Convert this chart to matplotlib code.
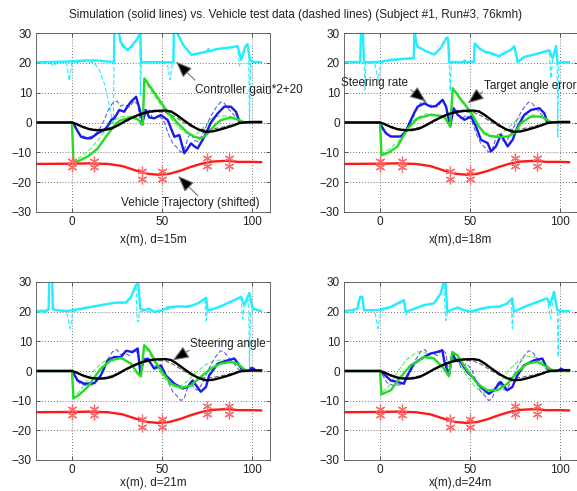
import numpy as np
import matplotlib
matplotlib.use("Agg")
import matplotlib.pyplot as plt

plt.rcParams['font.family'] = ['Liberation Sans', 'DejaVu Sans']

# ---- shared data (same vehicle test / trajectory in every panel) ----
cone_x = [0, 12, 39, 50, 75, 87]
cone_y_top = [-12.9, -12.9, -16.2, -16.2, -11.8, -11.8]
cone_y_bot = [-14.9, -14.9, -18.9, -18.9, -14.5, -14.5]

trajectory = [(-20, -13.9), (0, -13.8), (10, -13.7), (20, -13.9), (28, -14.6), (35, -16),
              (42, -17.2), (48, -17.5), (54, -17.2), (60, -16.2), (66, -14.9), (72, -13.8),
              (78, -13.1), (84, -12.9), (88, -12.9), (92, -13.2), (100, -13.2), (105, -13.3)]

steer_angle_sim = [(-20, 0), (0, 0), (2, -0.4), (6, -1.5), (10, -2.3), (14, -2.6), (18, -2.5),
                   (22, -2.0), (26, -0.8), (30, 0.6), (34, 1.8), (38, 2.8), (42, 3.5), (46, 3.9),
                   (52, 4.0), (55, 3.7), (58, 2.6), (62, 0.8), (66, -0.9), (70, -2.3), (74, -3.1),
                   (78, -3.0), (82, -2.4), (86, -1.7), (90, -0.9), (93, -0.2), (95, 0),
                   (100, 0.2), (105, 0.2)]
steer_angle_test = [(-20, 0), (0, 0), (4, -0.9), (10, -2.1), (16, -2.4), (22, -1.6), (28, -0.2),
                    (34, 1.5), (40, 2.9), (46, 3.6), (52, 3.4), (57, 2.0), (62, 0.0), (67, -1.6),
                    (72, -2.3), (78, -2.2), (84, -1.5), (90, -0.6), (94, 0), (105, 0)]
steer_rate_test = [(-20, 0), (0, 0), (1.5, -1.5), (4, -4), (8, -5), (12, -4.5), (15, -2.5), (18, 1),
                   (20, 4), (22.5, 6.5), (25, 7.2), (27, 5.5), (29, 6), (32, 5.2), (34.5, 7.3),
                   (36.5, 6), (38.3, -0.8), (39.8, 4.5), (41.5, 3.5), (43, 4.2), (45, 1), (48, 2.5),
                   (51, 0.5), (54, -4.5), (56, -7), (58, -8.2), (60.5, -10), (62.5, -9), (64.5, -5),
                   (66, -3.5), (68, -6), (70, -6.5), (72, -4.5), (74, -2), (77, 2), (80, 5),
                   (82.5, 6.8), (84.5, 6.5), (87, 4.5), (90, 2.5), (92.5, 0.5), (94, 0), (105, 0)]

# ---- panel 1, d=15m ----
p1_gain_sim = [(-20, 20.2), (-10, 20.3), (0, 20.5), (8, 20.8), (14, 20.8), (20, 20.4), (23.3, 20.4),
               (23.6, 32), (25.5, 32), (27, 27), (29, 25.4), (31, 24.3), (33.7, 26), (36.5, 28.3),
               (38, 30), (38.3, 20.2), (56.3, 20.2), (56.6, 32), (58.5, 30), (61.8, 26), (66.4, 22.7),
               (72, 23.4), (75, 23.8), (75.8, 24.6), (76.3, 23.8), (80.2, 24.6), (89.4, 25.3),
               (92, 25.6), (94, 21.1), (96.4, 25.6), (97.5, 26.3), (98.9, 20.8), (100.7, 20.3),
               (105, 20.2)]
p1_gain_test = [(-20, 20), (-12, 19.8), (-10, 18.8), (-9, 20), (-3, 20), (-1.5, 14), (0, 20),
                (8, 20.5), (12, 20), (15, 18), (18, 13), (20, 8), (22, 2), (23, 0), (23.5, 32),
                (25.5, 32), (27, 26), (29, 25), (31, 24), (33.7, 25.5), (36.5, 28), (37.8, 30),
                (38, 9), (38.5, 20), (48, 20.2), (53, 19.5), (54.5, 14.3), (55.5, 19), (56.5, 20),
                (56.8, 32), (58.5, 29.5), (62, 25.5), (66.4, 22.5), (72, 23.2), (75, 23.6),
                (80, 24.4), (89, 25.1), (92, 25.4), (93, 19), (94, 21), (96.4, 25.4), (97.5, 26),
                (98.2, 22), (98.6, -0.5), (99.2, 20), (100.7, 20.2), (105, 20)]
p1_rate_sim = [(-20, 0), (0, 0), (1, -0.5), (2.2, -1.9), (5, -4.8), (8, -5.3), (10.5, -5.3),
               (14.3, -3.6), (18, -2.5), (20, -1), (22, 1), (23.5, 1.4), (26.3, 4.2), (29, 3.6),
               (31, 5.5), (32.8, 7), (35.6, 8.6), (37.2, 5.3), (39.3, 0.3), (41, 4.2), (42.9, 1.7),
               (45.7, 1.4), (49.4, 2.5), (53.2, 0.8), (55, -2), (56.9, -4.8), (59.6, -4.2),
               (62.4, -10.3), (64, -9), (66.1, -7), (68, -8), (69.8, -8.7), (73.5, -4.8),
               (77.2, 0), (81, 3.1), (84.6, 5.3), (88.3, 5.3), (91.1, 3.6), (93, 0.3), (94, 0),
               (105, 0)]
p1_err_sim = [(-20, 0), (0, 0), (0.8, -13.6), (5, -12.5), (9, -11.3), (14.3, -8.7), (18, -5.5),
              (21.7, -2.5), (24.5, -0.3), (27.2, 0.8), (32.8, 1.7), (36.5, 1.1), (39.3, -0.8),
              (40.2, 14.8), (44, 11.5), (48, 8), (52, 4.5), (56, 1.5), (60, -1), (64, -3.3),
              (68, -4.8), (71.6, -5.3), (74, -4.5), (77.2, -2.5), (80, -0.5), (82.8, 0.8),
              (88.3, 1.7), (93, 0.8), (95.7, 0), (105, 0)]
p1_err_test = [(-20, 0), (0, 0), (0.8, -13), (5, -11.5), (10, -9), (15, -5.5), (20, -1.5), (24, 1),
               (28, 2), (33, 2), (37, 1), (39.3, -0.5), (40.2, 14), (44, 10.5), (48, 7), (52, 3.5),
               (56, 0.5), (60, -2), (64, -3.8), (67, -4.5), (70, -3.5), (74, -1), (78, 1.5),
               (82, 2.3), (88, 2), (93, 0.8), (95.7, 0), (105, 0)]

# ---- panel 2, d=18m ----
p2_gain_sim = [(-20, 20.2), (-11, 20.3), (-10.5, 32), (-9.5, 32), (-9, 20.2), (0, 20.3), (6, 21),
               (12, 21.3), (17.2, 21.5), (18.8, 21.7), (19.1, 32), (20, 27), (21, 25.4), (24.6, 24.2),
               (27, 23.5), (30.2, 22.8), (33.9, 25.1), (36.7, 28.2), (37.5, 28.5), (38, 27),
               (38.5, 20), (40, 20.3), (46, 20.2), (47, 20.8), (48, 20.2), (52.2, 20.4),
               (52.6, 26.5), (55, 25), (57.9, 23.8), (61.7, 23.3), (66.1, 22.2), (69, 23.3),
               (72.8, 24.4), (74.6, 25.6), (76.5, 20.3), (78, 21), (80.2, 22), (87.6, 23.1),
               (94, 24.2), (95.9, 21.5), (97.8, 25.6), (98.7, 19.8), (100.6, 20.2), (105, 20.2)]
p2_gain_test = [(-20, 20), (-11, 20), (-10.5, 32), (-9.5, 32), (-8.8, 20), (-8.3, 10.9), (-7.8, 20),
                (-3, 20), (-1, 14.2), (0.5, 20), (6, 20.8), (17.2, 21.3), (18.8, 21.5), (19.1, 32),
                (20, 26.5), (21, 25.2), (24.6, 24), (30.2, 22.6), (33.9, 25), (36.7, 28),
                (37.5, 28.3), (38.5, 20), (39, 10.5), (39.6, 20), (46, 20), (52.2, 20.2),
                (52.6, 26), (55, 24.7), (57.9, 23.5), (66.1, 22), (69, 23), (72.8, 24.2),
                (74.6, 25.3), (76.5, 20), (80.2, 21.8), (87.6, 22.9), (94, 24), (95, 14.8),
                (95.9, 21.3), (97.8, 25.4), (98.4, 20), (98.8, -4.8), (99.3, 19.8), (100.6, 20),
                (105, 20)]
p2_rate_sim = [(-20, 0), (0, 0), (1.5, -2), (3.3, -3.6), (6, -4.7), (11.5, -4.7), (14.3, -3),
               (16.5, 0), (18.9, 3.1), (20.9, 5.3), (24.6, 6.4), (28.3, 5.3), (31, 5.5),
               (34.8, 7.6), (36.7, 5.3), (39, -1.3), (40.9, 4.8), (43.1, 2.6), (46.9, 0.9),
               (50.6, 2), (53.3, -1.3), (56.1, -5.8), (59.8, -6.9), (61.7, -9.7), (64.4, -8),
               (67.2, -4.1), (70.9, -8), (73.7, -5.8), (76.5, -1.3), (80.2, 2.6), (83.9, 4.2),
               (88.5, 4.8), (91.3, 3.1), (93, 0), (105, 0)]
p2_err_sim = [(-20, 0), (0, 0), (0.8, -11), (5, -10), (9.8, -8), (12.5, -5), (15.6, -1.9),
              (20.9, 1.4), (28.3, 2.6), (35.6, 2), (39, -1.3), (40.4, 11.5), (44, 8.5), (47, 6.2),
              (51, 3), (54.3, -0.8), (57.9, -3.6), (61, -4.5), (65.4, -4.9), (70.9, -4.7),
              (74.6, -3.6), (78.3, -0.2), (83.9, 2), (89.4, 2), (93, 0.9), (95, 0), (105, 0)]
p2_err_test = [(-20, 0), (0, 0), (0.8, -10.5), (5, -9), (10, -6.5), (15, -2), (20, 1.5), (26, 3),
               (33, 2.5), (37, 1), (39, -0.8), (40.4, 11), (44, 8), (48, 5), (52, 1.5), (56, -2),
               (60, -4), (64, -4.5), (68, -3.5), (72, -1.5), (76, 1), (80, 2.5), (86, 2.5),
               (91, 1.2), (94, 0), (105, 0)]

# ---- panel 3, d=21m ----
p3_gain_sim = [(-20, 20.2), (-14, 20.3), (-13, 21), (-12.6, 32), (-11, 32), (-10.7, 21), (-9, 20.5),
               (-2.4, 20.2), (3, 20.8), (8.7, 21.4), (16, 22.2), (23.5, 23), (30, 23.1), (32.8, 25),
               (35.6, 29), (36.8, 29.5), (37.9, 21), (40.1, 20.5), (42.9, 21), (45.6, 19.9),
               (50.2, 20.5), (53, 21.4), (58.5, 21.8), (64.1, 21.6), (69.6, 22.7), (74.5, 24.7),
               (75.4, 20.4), (81, 21.4), (90.2, 23.9), (93.9, 25), (95.7, 22.2), (98.5, 26.3),
               (100.4, 21), (105, 20.2)]
p3_gain_test = [(-20, 20), (-16, 19.5), (-14, 20), (-13, 20.5), (-12.6, 32), (-11, 32), (-10.7, 20.5),
                (-3, 20), (-1, 14.3), (0.5, 20), (8.7, 21.2), (16, 22), (23.5, 22.8), (30, 22.9),
                (32.8, 24.8), (35.6, 28.5), (36.2, 17), (36.8, 16.5), (37.5, 20), (40.1, 20.3),
                (45.6, 19.7), (50.2, 20.3), (58.5, 21.6), (69.6, 22.5), (73.8, 24), (74.5, 17),
                (75.2, 20.2), (81, 21.2), (90.2, 23.7), (93.9, 24.8), (94.8, 17.6), (95.7, 22),
                (98.2, 24), (98.6, 0.2), (99.2, 20), (100.4, 20.8), (105, 20)]
p3_rate_sim = [(-20, 0), (0, 0), (1.5, -1.5), (3.1, -3.2), (6.8, -4.3), (12.4, -4.1), (16, -1.5),
               (19.8, 3.6), (23.5, 4.7), (27.2, 4.7), (30, 6.8), (33.7, 6.4), (36.5, 7.6),
               (38, -0.9), (39.8, 3.6), (42, 4.2), (45.7, 0.8), (49.4, 1.9), (52.1, -1.5),
               (56.9, -4.3), (61.5, -5.9), (64.2, -5.4), (67, -3.2), (69.6, -5.4), (71.5, -7),
               (74.4, -5.4), (76.2, -1.5), (81, 2.5), (86.5, 3.6), (90.2, 4.2), (93, 1.9),
               (94.8, 0), (98.5, 0), (99.5, 1), (101, 0.8), (102, 0), (105, 0)]
p3_err_sim = [(-20, 0), (0, 0), (0.8, -9.3), (4, -8), (8.7, -5.4), (12, -2.5), (16, 0.8),
              (21.6, 3.6), (27.2, 4.4), (32.8, 2.5), (36.5, -0.9), (38.3, -1.8), (40.1, 8.7),
              (42.9, 7), (46, 3.5), (49.4, 0.2), (55, -4.3), (60.5, -5.7), (66, -4.9), (71.5, -2),
              (77.1, 0.8), (82.6, 2.5), (88.1, 3.1), (91.8, 2.5), (96.5, 0.2), (105, 0)]
p3_err_test = [(-20, 0), (0, 0), (0.8, -8.8), (4, -7), (8, -3.5), (12, 0), (16, 2.5), (21, 4.5),
               (26, 4.8), (31, 3), (35, 0.5), (38.3, -1.5), (40.1, 8.3), (43, 6), (47, 1.5),
               (51, -2.5), (55, -5), (59, -5.5), (64, -3.5), (69, -0.5), (74, 2), (79, 3.5),
               (84, 3.8), (89, 3), (93, 1.5), (96, 0), (105, 0)]

# ---- panel 4, d=24m ----
p4_gain_sim = [(-20, 20.2), (-15.3, 20.5), (-12.6, 21), (-11.5, 24), (-11, 25), (-9.8, 25),
               (-8.9, 20.5), (-1.5, 20.5), (6, 21.6), (13.3, 23.9), (14.3, 20), (17, 20.5),
               (24.4, 22.2), (30, 22.8), (33.7, 26.1), (35.2, 29.5), (36.5, 29.5), (37.4, 20),
               (39.3, 20.5), (43, 21.4), (46.7, 20.5), (50.4, 20), (55.9, 21), (61.5, 21.6),
               (66.1, 21.6), (70.7, 22.8), (73.5, 24.5), (74.4, 20), (80, 21.6), (87.4, 23.3),
               (92.9, 24.5), (94.4, 22.2), (96.7, 26.7), (98.5, 20.5), (101.3, 20.2), (105, 20.2)]
p4_gain_test = [(-20, 19.8), (-16, 19.5), (-12.6, 20.8), (-11, 24.5), (-9.8, 24.5), (-8.9, 20.3),
                (-3, 20.3), (-1.1, 14.3), (0.5, 20.3), (6, 21.4), (13.3, 23.6), (14.3, 18.8),
                (15.5, 20.3), (24.4, 22), (30, 22.6), (33.7, 25.8), (35.5, 29), (36.5, 17),
                (37.6, 20), (43, 21.2), (50.4, 19.8), (61.5, 21.4), (70.7, 22.6), (73, 24),
                (73.5, 14.3), (74.2, 20), (80, 21.4), (87.4, 23.1), (92.9, 24.3), (94.8, 17.6),
                (95.8, 23), (97, 26.3), (98.5, 20), (99, 4.7), (99.5, 20), (101.3, 20), (105, 20)]
p4_rate_sim = [(-20, 0), (0, 0), (2.2, -1.1), (6, -3.2), (9.6, -3.7), (13.3, -4.3), (15.2, -1.5),
               (18.9, 2.5), (24.4, 4.7), (28.1, 5.9), (31.8, 6.4), (34.6, 7), (35.6, 3.6),
               (38.3, -1.5), (40.2, 5.9), (42, 3.6), (44.8, 3.1), (48.5, -0.3), (52.2, -2.6),
               (55.9, -5.4), (60.5, -7.7), (63.3, -6.5), (67, -3.7), (70.7, -6.5), (73.5, -5.4),
               (76.3, -1.5), (80, 1.9), (85.6, 3.6), (90.2, 4.2), (92, 1.9), (94.8, 0), (99, 0),
               (100.5, 0.8), (102, 0.3), (105, 0.3)]
p4_err_sim = [(-20, 0), (0, 0), (0.8, -7.9), (6, -6.5), (11.5, -2), (17, 1.9), (24.4, 4.7),
              (30, 4.2), (35.6, 0.8), (38.3, -1.8), (40.2, 6.4), (43, 5.3), (48.5, 0.2),
              (54.1, -4.3), (59.6, -6.5), (65.2, -6.5), (70.7, -4.3), (76.3, -0.3), (81.8, 2.5),
              (87.4, 3.1), (91.1, 1.9), (96.7, 0), (105, 0)]
p4_err_test = [(-20, 0), (0, 0), (0.8, -7.5), (5, -5), (10, 0), (15, 4), (21, 6.5), (26, 6),
               (31, 3.5), (35, 0.5), (38.3, -1.5), (40.2, 6), (44, 3), (48, -1.5), (53, -5.5),
               (58, -7.5), (62, -7), (67, -3.5), (72, 0.5), (77, 3.5), (82, 5), (87, 4.5),
               (91, 2.5), (95, 0.3), (105, 0)]

xlabels = ['x(m), d=15m', 'x(m),d=18m', 'x(m), d=21m', 'x(m),d=24m']
title = 'Simulation (solid lines) vs. Vehicle test data (dashed lines) (Subject #1, Run#3, 76kmh)'

panels = [
    (p1_gain_sim, p1_gain_test, p1_rate_sim, p1_err_sim, p1_err_test),
    (p2_gain_sim, p2_gain_test, p2_rate_sim, p2_err_sim, p2_err_test),
    (p3_gain_sim, p3_gain_test, p3_rate_sim, p3_err_sim, p3_err_test),
    (p4_gain_sim, p4_gain_test, p4_rate_sim, p4_err_sim, p4_err_test),
]

W, H = 577, 491
fig = plt.figure(figsize=(W / 100, H / 100), dpi=100)
boxes = [(36, 33, 270, 212), (344, 33, 578, 212), (36, 282, 270, 460), (344, 282, 578, 460)]

CYAN = '#22eeff'
BLUE = '#1a1aee'
GREEN = '#22dd22'
RED = '#ff1a1a'
DASH = (0, (4, 2))


def xy(pts):
    a = np.array(pts, dtype=float)
    return a[:, 0], a[:, 1]


axes = []
for i, (l, t, r, b) in enumerate(boxes):
    ax = fig.add_axes([l / W, 1 - b / H, (r - l) / W, (b - t) / H])
    gain_sim, gain_test, rate_sim, err_sim, err_test = panels[i]

    ax.plot(*xy(gain_test), color=CYAN, lw=0.8, linestyle=DASH)
    ax.plot(*xy(gain_sim), color=CYAN, lw=1.7)
    ax.plot(*xy(steer_rate_test), color=BLUE, lw=0.8, linestyle=DASH, alpha=0.7)
    ax.plot(*xy(err_test), color=GREEN, lw=0.8, linestyle=DASH, alpha=0.7)
    ax.plot(*xy(steer_angle_test), color='#666666', lw=0.8, linestyle=DASH)
    ax.plot(*xy(rate_sim), color=BLUE, lw=1.7)
    ax.plot(*xy(err_sim), color=GREEN, lw=1.7)
    ax.plot(*xy(steer_angle_sim), color='black', lw=1.7)
    ax.plot(*xy(trajectory), color=RED, lw=1.7)
    for cy in (cone_y_top, cone_y_bot):
        ax.plot(cone_x, cy, linestyle='none', marker=(6, 2, 0), color='#ff6a6a', ms=7, mew=0.9)

    ax.set_xlim(-20, 110)
    ax.set_ylim(-30, 30)
    ax.set_xticks([0, 50, 100])
    ax.set_yticks(range(-30, 31, 10))
    ax.grid(True, color='#444444', linestyle=(0, (1, 2.5)), lw=0.6)
    ax.tick_params(direction='in', length=3, width=0.5, labelsize=8.5, colors='#222222',
                   top=True, right=True, pad=3)
    for s in ax.spines.values():
        s.set_color('#555555')
        s.set_linewidth(0.6)
    ax.set_xlabel(xlabels[i], fontsize=8.5, color='#222222', labelpad=4 if i < 2 else 0.5)
    axes.append(ax)

arrow_kw = dict(arrowstyle='-|>,head_length=1.0,head_width=0.4', fc='black', ec='#777777',
                lw=0.8, mutation_scale=10, shrinkA=0, shrinkB=0)
txt_kw = dict(fontsize=8.5, color='#222222', clip_on=False)

ax1, ax2, ax3, ax4 = axes
ax1.annotate('', xy=(57.8, 20.4), xytext=(68.3, 14.2), arrowprops=arrow_kw, annotation_clip=False)
ax1.text(68.3, 10.9, 'Controller gain*2+20', va='center', ha='left', **txt_kw)
ax1.annotate('', xy=(58.9, -17.9), xytext=(70, -24.6), arrowprops=arrow_kw, annotation_clip=False)
ax1.text(65.6, -27, 'Vehicle Trajectory (shifted)', va='center', ha='center', **txt_kw)

ax2.annotate('', xy=(25.6, 7), xytext=(17.2, 10.9), arrowprops=arrow_kw, annotation_clip=False)
ax2.text(-21.7, 13.2, 'Steering rate', va='center', ha='left', **txt_kw)
ax2.annotate('', xy=(48.7, 6.4), xytext=(57, 10.3), arrowprops=arrow_kw, annotation_clip=False)
ax2.text(57.6, 12.2, 'Target angle error', va='center', ha='left', **txt_kw)

ax3.annotate('', xy=(55.9, 3.6), xytext=(65.2, 7), arrowprops=arrow_kw, annotation_clip=False)
ax3.text(65.6, 9.25, 'Steering angle', va='center', ha='left', **txt_kw)

fig.text(296 / W, 1 - 15 / H, title, ha='center', va='center', fontsize=8.5, color='#222222')

fig.savefig('out.png', dpi=100)
